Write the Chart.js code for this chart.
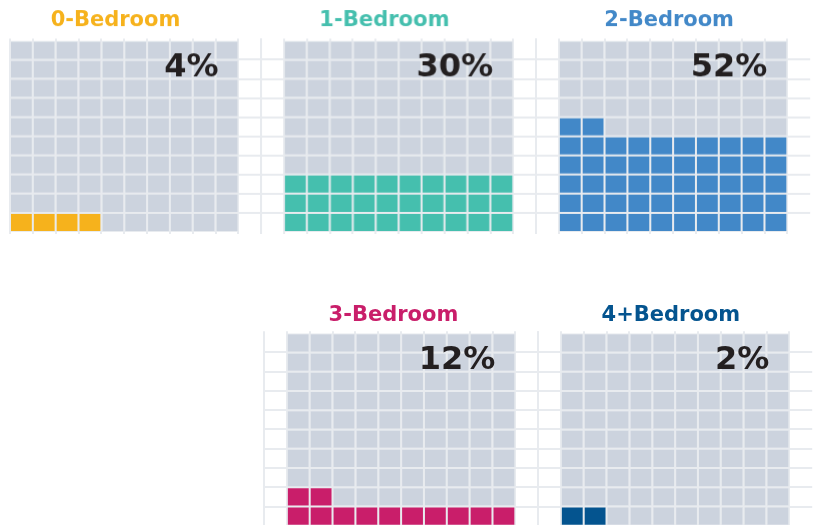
<!DOCTYPE html>
<html>
<head>
<meta charset="utf-8">
<title>Units by bedroom count</title>
<script src="https://cdn.jsdelivr.net/npm/chart.js@4.4.0/dist/chart.umd.min.js"></script>
<style>
  html, body { margin: 0; padding: 0; background: #ffffff; overflow: hidden; }
  body { width: 814px; height: 525px; position: relative; }
  .panel { position: absolute; }
</style>
</head>
<body>
<div class="panel" id="panel_0"><canvas id="chart_0"></canvas></div>
<div class="panel" id="panel_1"><canvas id="chart_1"></canvas></div>
<div class="panel" id="panel_2"><canvas id="chart_2"></canvas></div>
<div class="panel" id="panel_3"><canvas id="chart_3"></canvas></div>
<div class="panel" id="panel_4"><canvas id="chart_4"></canvas></div>
<script>
/* ------------------
  data
-------------------*/
var categories = ['0-Bedroom', '1-Bedroom', '2-Bedroom', '3-Bedroom', '4+Bedroom'];
var percentages = [4, 30, 52, 12, 2];
var percentLabels = ['4%', '30%', '52%', '12%', '2%'];
var gridRows = 10;
var gridCols = 10;

/* ------------------
  colours
-------------------*/
var fillColors = ['#f6b21c', '#45bfae', '#4288c8', '#c91e6a', '#04548f'];
var emptyColor = '#ccd3de';
var lineColor = '#e8ebef';
var textColor = '#231f20';
var fontFamily = '"DejaVu Sans", Verdana, sans-serif';

/* ------------------
  layout (pixels)
-------------------*/
var colWidth = 22.85;
var rowLayout = [
  { top: 0, areaTop: 38.5, areaBottom: 232.5, titleY: 26 },
  { top: 290, areaTop: 331.3, areaBottom: 527.3, titleY: 320.7 }
];
// one entry per panel: which row, chart-area left, empty columns before/after, title centre
var panelLayout = [
  { row: 0, left: 10,     before: 0, after: 1, titleX: 115.5, edge: true },
  { row: 0, left: 261.35, before: 1, after: 1, titleX: 384.3, edge: true },
  { row: 0, left: 535.55, before: 1, after: 1, titleX: 668.7, edge: false },
  { row: 1, left: 263.85, before: 1, after: 1, titleX: 393.3, edge: true },
  { row: 1, left: 537.85, before: 1, after: 1, titleX: 670.7, edge: false }
];

/* ------------------
  titles + percentage text
-------------------*/
var panelText = {
  id: 'panelText',
  afterDraw: function (chart, args, opts) {
    var ctx = chart.ctx;
    var x = chart.scales.x, y = chart.scales.y;
    ctx.save();
    // facet title
    ctx.font = 'bold 21px ' + fontFamily;
    ctx.fillStyle = opts.color;
    ctx.textAlign = 'center';
    ctx.textBaseline = 'alphabetic';
    ctx.fillText(opts.title, opts.titleX, opts.titleY);
    // percentage, top right of the tiles
    var tileRight = x.getPixelForValue(opts.lastTile) + colWidth / 2;
    var tileTop = y.getPixelForValue(gridRows);
    ctx.font = 'bold 32px ' + fontFamily;
    ctx.fillStyle = textColor;
    ctx.textAlign = 'right';
    ctx.fillText(opts.label, tileRight - 20, tileTop + 36);
    ctx.restore();
  }
};

function buildWaffle(i) {
  var p = panelLayout[i];
  var r = rowLayout[p.row];
  var nCols = p.before + gridCols + p.after;
  var labels = [];
  for (var c = 0; c < nCols; c++) labels.push('c' + c);

  // one stacked dataset per row of tiles, filled from bottom-left
  var datasets = [];
  for (var row = 0; row < gridRows; row++) {
    var values = [], colors = [];
    for (var c = 0; c < nCols; c++) {
      var col = c - p.before;
      if (col < 0 || col >= gridCols) { values.push(null); colors.push(emptyColor); continue; }
      values.push(1);
      colors.push(row * gridCols + col < percentages[i] ? fillColors[i] : emptyColor);
    }
    datasets.push({
      data: values,
      backgroundColor: colors,
      borderColor: lineColor,
      borderWidth: 1,
      borderSkipped: false,
      inflateAmount: 0,
      barPercentage: 1,
      categoryPercentage: 1
    });
  }

  var box = document.getElementById('panel_' + i);
  box.style.left = (p.left - 2) + 'px';
  box.style.top = r.top + 'px';
  box.style.width = (nCols * colWidth + 4) + 'px';
  box.style.height = (r.areaBottom - r.top + 2) + 'px';

  new Chart(document.getElementById('chart_' + i), {
    type: 'bar',
    data: { labels: labels, datasets: datasets },
    options: {
      responsive: true,
      maintainAspectRatio: false,
      animation: false,
      events: [],
      layout: { padding: { left: 2, right: 2, top: r.areaTop - r.top, bottom: 2 } },
      plugins: {
        legend: { display: false },
        tooltip: { enabled: false },
        panelText: {
          title: categories[i],
          label: percentLabels[i],
          color: fillColors[i],
          titleX: p.titleX - p.left + 2,
          titleY: r.titleY - r.top,
          lastTile: p.before + gridCols - 1
        }
      },
      scales: {
        x: {
          stacked: true,
          ticks: { display: false },
          border: { display: false },
          grid: {
            offset: true,
            drawTicks: false,
            lineWidth: 2,
            color: function (c) {
              // the closing line on the far right has no tick
              return (!p.edge && !c.tick) ? 'rgba(0,0,0,0)' : lineColor;
            }
          }
        },
        y: {
          stacked: true,
          min: -0.08,
          max: 10.1,
          ticks: { display: false, stepSize: 1 },
          border: { display: false },
          grid: {
            drawTicks: false,
            lineWidth: 2,
            color: function (c) {
              var v = c.tick ? c.tick.value : 0;
              return (v >= 1 && v <= gridRows - 1 && Math.round(v) === v) ? lineColor : 'rgba(0,0,0,0)';
            }
          }
        }
      }
    },
    plugins: [panelText]
  });
}

for (var i = 0; i < categories.length; i++) buildWaffle(i);
</script>
</body>
</html>
